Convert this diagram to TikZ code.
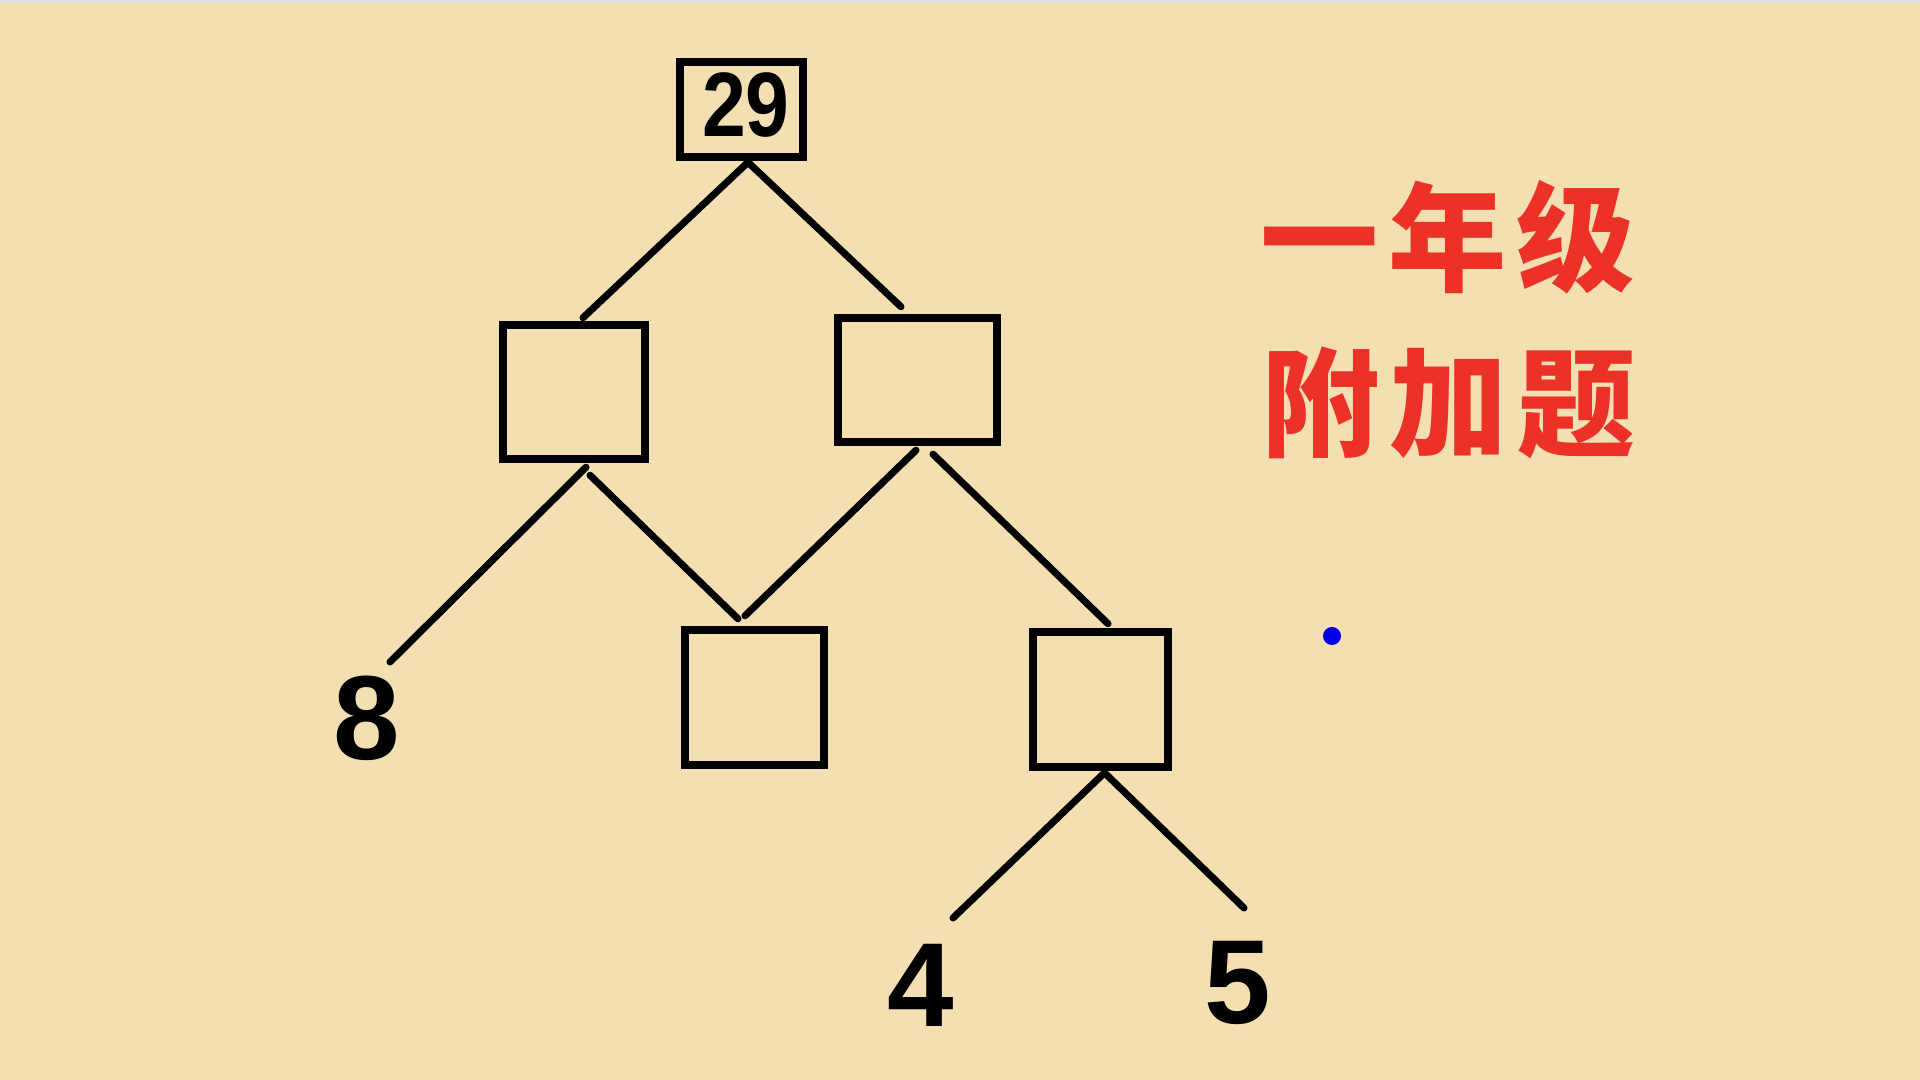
\documentclass[tikz,border=0pt]{standalone}
\usepackage{fontspec}
\setmainfont{Liberation Sans}
\newfontfamily\numfont{Liberation Sans}[FakeStretch=0.86]
\newfontfamily\cjk{Noto Sans CJK SC}
\usetikzlibrary{calc}
\definecolor{bgwheat}{RGB}{243,223,178}
\definecolor{topgrey}{RGB}{226,223,230}
\definecolor{titlered}{RGB}{236,50,38}
\definecolor{dotblue}{RGB}{0,0,235}
\tikzset{
  box/.style={draw=black, line width=2.1pt, inner sep=0pt, fill=none},
  conn/.style={draw=black, line width=2.0pt, line cap=round},
  leaf/.style={font=\fontsize{34}{36}\selectfont\bfseries, inner sep=0pt, anchor=base},
  title/.style={font=\cjk\bfseries\fontsize{33.6}{36}\selectfont, text=titlered, inner sep=0pt},
}
\begin{document}
\begin{tikzpicture}[x=0.01cm, y=-0.01cm]
\fill[bgwheat] (0,0) rectangle (1920,1080);
\useasboundingbox (0,0) rectangle (1920,1080);
\fill[topgrey] (0,0) rectangle (1920,3);
% boxes
\node[box, minimum width=1.23cm, minimum height=0.95cm] (root) at (741.5,109.5) {};
\node[inner sep=0pt, anchor=base, font=\numfont\bfseries\fontsize{26}{28}\selectfont] (rootnum) at (746,137) {29};
\node[box, minimum width=1.42cm, minimum height=1.34cm] (L) at (574,392) {};
\node[box, minimum width=1.59cm, minimum height=1.24cm] (R) at (917.5,380) {};
\node[box, minimum width=1.39cm, minimum height=1.35cm] (M) at (754.5,697.5) {};
\node[box, minimum width=1.35cm, minimum height=1.35cm] (B) at (1100.5,699.5) {};
% leaves
\node[leaf] (eight) at (367,760) {8};
\node[leaf] (four) at (921,1027) {4};
\node[leaf] (five) at (1238,1024) {5};
\coordinate (e8) at (390,662);
\coordinate (e4) at (953,918);
\coordinate (e5) at (1244,908);
% connectors
\draw[conn] ($(root.south)+(5.5,2.5)$) -- ($(L.north)+(9,-3.5)$);
\draw[conn] ($(root.south)+(7.5,2.5)$) -- ($(R.north)+(-16.5,-7.5)$);
\draw[conn] ($(L.south)+(12,4.5)$) -- (e8);
\draw[conn] ($(L.south)+(16,12.5)$) -- ($(M.north)+(-16.5,-7.5)$);
\draw[conn] ($(R.south)+(-1.5,4.5)$) -- ($(M.north)+(-9.5,-10.5)$);
\draw[conn] ($(R.south)+(15.5,8.5)$) -- ($(B.north)+(7.5,-4.5)$);
\draw[conn] ($(B.south)+(2.5,3.5)$) -- (e4);
\draw[conn] ($(B.south)+(5.5,3.5)$) -- (e5);
% title
\node[title] (t1) at (1448,237) {一\hspace{2.8pt}年\hspace{2.8pt}级};
\node[title] (t2) at (1449,403) {附\hspace{2.8pt}加\hspace{2.8pt}题};
% dot
\fill[dotblue] (1332,636) circle (0.09cm);
\end{tikzpicture}
\end{document}
